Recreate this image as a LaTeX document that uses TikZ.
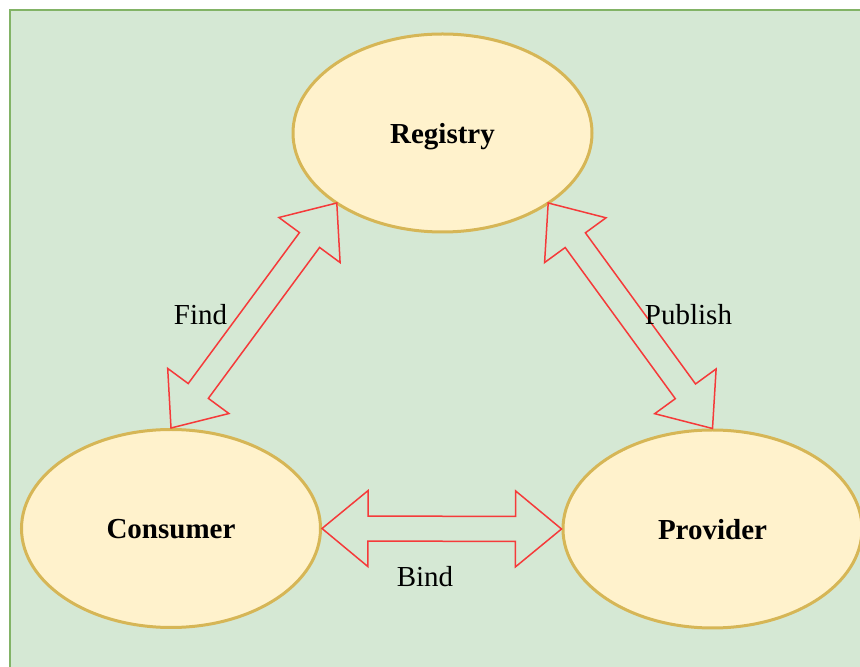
\documentclass[tikz,border=0pt]{standalone}
\usepackage{fontspec}
\setmainfont{Liberation Serif}
\usetikzlibrary{calc,shapes.geometric}

\definecolor{bgfill}{HTML}{D5E8D4}
\definecolor{bgline}{HTML}{82B366}
\definecolor{nodefill}{HTML}{FFF2CC}
\definecolor{nodeline}{HTML}{D6B656}
\definecolor{arrowline}{HTML}{F53A3A}

\tikzset{
  blob/.style={ellipse, draw=nodeline, fill=nodefill, line width=3pt,
    minimum width=299pt, minimum height=198pt, inner sep=0pt,
    font=\fontsize{29}{34}\selectfont\bfseries, text height=21pt, text depth=0pt},
  lbl/.style={font=\fontsize{29}{34}\selectfont, inner sep=0pt, anchor=base},
  flexline/.style={draw=arrowline, line width=1.5pt, line join=miter, fill=none}
}

% hollow double-headed "flex" arrow between two named points
\newcommand\flexarrow[2]{%
  \coordinate (fa-s) at ($(#1)!46pt!(#2)$);
  \coordinate (fa-e) at ($(#2)!46pt!(#1)$);
  \draw[flexline] (#1)
    -- ($(fa-s)!38pt!90:(#2)$) -- ($(fa-s)!12.5pt!90:(#2)$)
    -- ($(fa-e)!12.5pt!-90:(#1)$) -- ($(fa-e)!38pt!-90:(#1)$)
    -- (#2)
    -- ($(fa-e)!38pt!90:(#1)$) -- ($(fa-e)!12.5pt!90:(#1)$)
    -- ($(fa-s)!12.5pt!-90:(#2)$) -- ($(fa-s)!38pt!-90:(#2)$)
    -- cycle;}

\begin{document}
\begin{tikzpicture}[x=1pt,y=1pt]
  \useasboundingbox (0,0) rectangle (860,667);
  % panel
  \draw[draw=bgline, fill=bgfill, line width=2.5pt] (10,657) rectangle (866,-6);

  % roles
  \node[blob] (reg)  at (442.5,534) {Registry};
  \node[blob] (cons) at (171,138.5) {Consumer};
  \node[blob] (prov) at (712.5,138) {Provider};

  % attachment points on the registry
  \coordinate (regL) at ($(reg.center)+(-105.7,-70)$);
  \coordinate (regR) at ($(reg.center)+(105.7,-70)$);

  % interactions
  \flexarrow{cons.north}{regL}
  \flexarrow{regR}{prov.north}
  \flexarrow{cons.east}{prov.west}

  % interaction labels
  \node[lbl] (find) at (200.5,342) {Find};
  \node[lbl] (pub)  at (688.5,342) {Publish};
  \node[lbl] (bind) at (425,80) {Bind};
\end{tikzpicture}
\end{document}
